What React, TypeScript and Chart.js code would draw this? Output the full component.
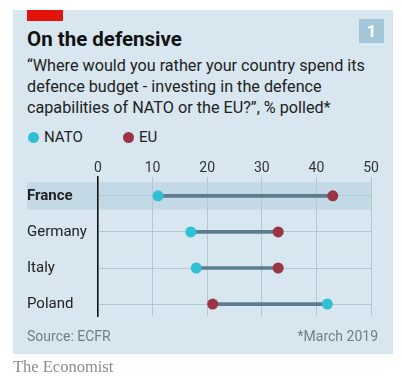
import React, { useEffect, useRef } from "react";
import { Chart, registerables } from "chart.js";

Chart.register(...registerables);

const countries = ["France", "Germany", "Italy", "Poland"];
const natoValues = [11, 17, 18, 42];
const euValues = [43, 33, 33, 21];
const xTicks = [0, 10, 20, 30, 40, 50];

const NATO_COLOR = "#2fc0d3";
const EU_COLOR = "#9b3546";
const LINE_COLOR = "#5b7d8e";
const PANEL = "#d7e6ef";
const BAND = "#c3d9e5";
const GRID = "#b3c8d3";
const FONT = "Roboto, 'Noto Sans', sans-serif";

const bandPlugin = {
  id: "band",
  beforeDraw(chart: any) {
    const { ctx, chartArea, scales } = chart;
    const y0 = scales.y.getPixelForValue(0);
    ctx.save();
    ctx.fillStyle = BAND;
    ctx.fillRect(14, y0 - 13.7, chartArea.right - 14, 27.4);
    ctx.restore();
  },
};

function DotChart() {
  const ref = useRef<HTMLCanvasElement>(null);
  useEffect(() => {
    if (!ref.current) return;
    const chart = new Chart(ref.current, {
      type: "bar",
      data: {
        datasets: [
          {
            type: "bar",
            data: countries.map((c, i) => ({ x: [natoValues[i], euValues[i]], y: i })) as any,
            backgroundColor: LINE_COLOR,
            barThickness: 3,
            order: 3,
          } as any,
          {
            type: "line",
            label: "NATO",
            data: countries.map((c, i) => ({ x: natoValues[i], y: i })) as any,
            showLine: false,
            pointRadius: 5.5,
            pointBackgroundColor: NATO_COLOR,
            pointBorderWidth: 0,
            backgroundColor: NATO_COLOR,
            order: 1,
          } as any,
          {
            type: "line",
            label: "EU",
            data: countries.map((c, i) => ({ x: euValues[i], y: i })) as any,
            showLine: false,
            pointRadius: 5.5,
            pointBackgroundColor: EU_COLOR,
            pointBorderWidth: 0,
            backgroundColor: EU_COLOR,
            order: 1,
          } as any,
        ],
      },
      options: {
        indexAxis: "y",
        animation: false,
        responsive: false,
        maintainAspectRatio: false,
        layout: { padding: { left: 14, right: 22, top: 0, bottom: 14 } },
        plugins: { legend: { display: false }, tooltip: { enabled: false } },
        scales: {
          x: {
            type: "linear",
            position: "top",
            min: 0,
            max: 50,
            offset: false,
            afterBuildTicks: (s: any) => {
              s.ticks = xTicks.map((v) => ({ value: v }));
            },
            afterFit: (s: any) => {
              s.height = 26.7;
            },
            grid: { color: GRID, lineWidth: 1, drawTicks: false, offset: false },
            border: { display: false },
            ticks: {
              color: "#333",
              font: { family: FONT, size: 14 },
              padding: 0,
              maxRotation: 0,
            },
          },
          y: {
            type: "linear",
            reverse: true,
            min: -0.53,
            max: 3.33,
            offset: false,
            afterBuildTicks: (s: any) => {
              s.ticks = countries.map((c, i) => ({ value: i }));
            },
            afterFit: (s: any) => {
              s.width = 71;
            },
            grid: { color: GRID, lineWidth: 1, drawTicks: false, offset: false },
            border: { display: true, color: "#111", width: 1.5 },
            ticks: {
              crossAlign: "far",
              color: "#222",
              callback: (v: any) => countries[v as number] ?? "",
              font: (ctx: any) => ({
                family: FONT,
                size: 15,
                weight: ctx.tick && ctx.tick.value === 0 ? "bold" : "normal",
              }),
            },
          },
        },
      } as any,
      plugins: [bandPlugin],
    });
    return () => chart.destroy();
  }, []);
  return (
    <canvas
      ref={ref}
      width={380}
      height={180}
      style={{ position: "absolute", left: 13, top: 150, width: 380, height: 180 }}
    />
  );
}

export default function App() {
  return (
    <div style={{ position: "absolute", left: 0, top: 0, width: 402, height: 383, background: "#fff", fontFamily: FONT }}>
      <div style={{ position: "absolute", left: 13, top: 10, width: 380, height: 344, background: PANEL }} />
      <div style={{ position: "absolute", left: 27, top: 10, width: 36, height: 11, background: "#e3120b" }} />
      <div style={{ position: "absolute", left: 359, top: 19, width: 25, height: 24, background: "#a3c6d8", color: "#fff", fontWeight: 700, fontSize: 17, lineHeight: "24px", textAlign: "center" }}>1</div>
      <div style={{ position: "absolute", left: 27, top: 27, fontSize: 20.5, fontWeight: 700, lineHeight: "24px", color: "#111", whiteSpace: "nowrap" }}>On the defensive</div>
      <div style={{ position: "absolute", left: 27, top: 54.5, fontSize: 16.2, lineHeight: "21px", color: "#222", whiteSpace: "nowrap" }}>
        “Where would you rather your country spend its<br />
        defence budget - investing in the defence<br />
        capabilities of NATO or the EU?”, % polled*
      </div>
      <div style={{ position: "absolute", left: 27.5, top: 131.5, width: 11, height: 11, borderRadius: "50%", background: NATO_COLOR }} />
      <div style={{ position: "absolute", left: 44, top: 127, fontSize: 15, lineHeight: "20px", color: "#222" }}>NATO</div>
      <div style={{ position: "absolute", left: 122.5, top: 131.5, width: 11, height: 11, borderRadius: "50%", background: EU_COLOR }} />
      <div style={{ position: "absolute", left: 139, top: 127, fontSize: 15, lineHeight: "20px", color: "#222" }}>EU</div>
      <DotChart />
      <div style={{ position: "absolute", left: 27, top: 326, fontSize: 14, lineHeight: "20px", color: "#6f7f88" }}>Source: ECFR</div>
      <div style={{ position: "absolute", right: 402 - 378, top: 326, fontSize: 14, lineHeight: "20px", color: "#6f7f88" }}>*March 2019</div>
      <div style={{ position: "absolute", left: 13, top: 357, fontSize: 16.5, lineHeight: "20px", color: "#8c8c8c", fontFamily: "'Liberation Serif', 'DejaVu Serif', serif" }}>The Economist</div>
    </div>
  );
}
